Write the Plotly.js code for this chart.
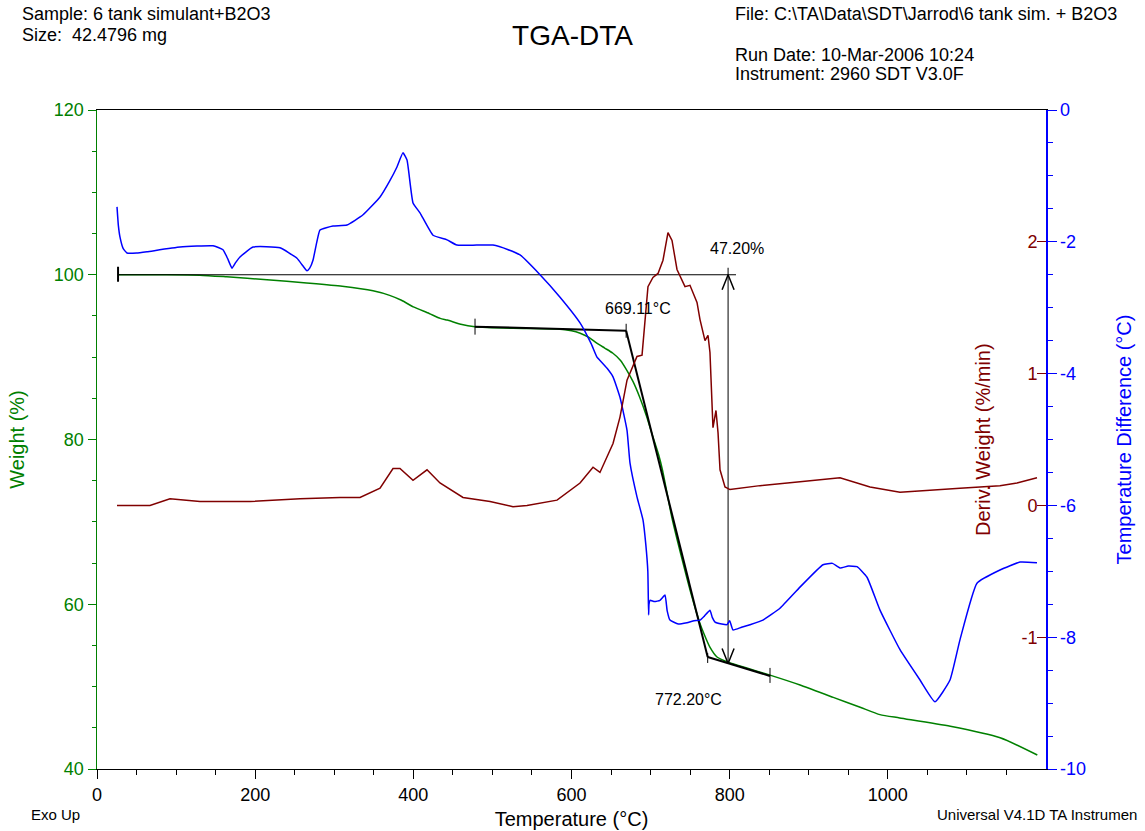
<!DOCTYPE html>
<html><head><meta charset="utf-8">
<script src="https://cdn.plot.ly/plotly-3.0.1.min.js"></script>
<style>html,body{margin:0;padding:0;background:#fff}#chart{width:1145px;height:831px}</style>
</head><body><div id="chart"></div>
<script>
// ---- Weight (%) curve ----
const weightT = [26.6,88,130,164,215,265,310,349,370,385,400,420,434,443,460,478,526,582,600,611,622,632,642,652,662,670,678,686,695,703,710,715,727,740,752,762,768,775,784,800,851,889,931,965,990,1015,1079,1142,1189];
const weightPct = [100,100,99.95,99.75,99.4,99.0,98.6,98.05,97.5,96.9,96.1,95.3,94.7,94.5,94.0,93.7,93.5,93.4,93.2,92.9,92.4,91.7,91.1,90.5,89.6,88.4,87.0,85.2,82.8,80.3,78.2,76.3,70.5,65.4,61.0,57.8,56.3,54.8,53.6,52.9,51.4,50.2,48.7,47.5,46.6,46.2,45.2,43.8,41.7];

// ---- Temperature difference (°C) curve ----
const dtaT = [25.3,27,29.1,33,37.9,50,63.2,105,146.7,159.3,165,170.7,175,180.8,197.3,231.4,252.9,260,265.5,269,273.1,278,282,298.4,316.1,336.4,357.9,370,379.3,386.9,392,399.6,408.4,424.9,442.6,455,480,500.7,520,534.9,560.2,585.5,610.8,625,632.2,636,645,652.5,661.3,670.2,674,682.8,690.4,694,696.5,697.5,698,699.3,705,711.9,718.2,721,724.5,735,746,755,762.5,768,775.1,778,781.5,790,796.6,800,804.2,815,825.7,842.1,863.6,888.9,918,930,939.5,950,961,973.7,990.1,1015.4,1040.7,1059.6,1078.6,1091.2,1112.7,1141.8,1167.1,1188.6];
const dtaDiff = [-1.47,-1.75,-1.93,-2.1,-2.17,-2.17,-2.15,-2.08,-2.06,-2.12,-2.25,-2.40,-2.32,-2.23,-2.08,-2.09,-2.25,-2.36,-2.44,-2.4,-2.28,-2.0,-1.82,-1.76,-1.745,-1.59,-1.32,-1.08,-0.865,-0.65,-0.76,-1.41,-1.56,-1.90,-1.97,-2.05,-2.05,-2.05,-2.12,-2.20,-2.50,-2.84,-3.23,-3.55,-3.75,-3.80,-3.92,-4.05,-4.36,-4.86,-5.36,-5.87,-6.22,-6.6,-7.0,-7.66,-7.5,-7.44,-7.46,-7.44,-7.36,-7.6,-7.74,-7.8,-7.78,-7.75,-7.74,-7.68,-7.59,-7.7,-7.77,-7.8,-7.81,-7.75,-7.89,-7.85,-7.81,-7.74,-7.56,-7.24,-6.90,-6.88,-6.95,-6.92,-6.93,-7.09,-7.59,-8.19,-8.65,-8.98,-8.65,-8.04,-7.18,-6.98,-6.86,-6.87];

// ---- Derivative weight (%/min) curve ----
const derivT = [25.3,67,92.3,130.2,193.5,256.7,307.3,332.6,357.9,374.3,383.1,399.6,417.3,433.7,462.8,497,526,543.7,581.7,610.8,627.2,636,652.5,661.3,670.2,682.8,689.2,693,696.7,703,709.4,715.7,722,727.1,733.4,743.5,749.8,758.7,762.5,768.8,772.6,775.1,777.7,778.9,782.7,785.3,787.8,794.1,800.4,838.4,888.9,939.5,977.5,1015.4,1091.2,1141.8,1163.3,1188.6];
const derivRate = [0.0,0.0,0.05,0.03,0.03,0.05,0.06,0.06,0.13,0.28,0.28,0.19,0.27,0.17,0.06,0.03,-0.01,0.0,0.04,0.17,0.29,0.25,0.47,0.67,0.95,1.13,1.14,1.41,1.66,1.73,1.76,1.86,2.07,2.01,1.79,1.66,1.67,1.54,1.41,1.25,1.29,1.16,0.75,0.59,0.72,0.55,0.27,0.14,0.12,0.15,0.18,0.21,0.14,0.10,0.13,0.15,0.17,0.21];

// ---- Step analysis ----
const baselineT = [26.6, 808];
const baselineW = [100, 100];
const onsetBaseT = [478, 669.11];
const onsetBaseW = [93.7, 93.2];
const steepT = [669.11, 772.2];
const steepW = [93.2, 53.6];
const postT = [772.2, 851];
const postW = [53.6, 51.3];
const stepT = 798;
const stepW = [100, 52.8];
const stepLabel = '47.20%';
const onsetLabel = '669.11°C';
const endLabel = '772.20°C';

// ---- Tick labels ----
const xTicks = [0,200,400,600,800,1000,1200];
const wTicks = [40,60,80,100,120];
const dTickVals = [0,-2,-4,-6,-8,-10];
const dTickText = ['0','-2','-4','-6','-8','-10'];
const rTickVals = [2,1,0,-1];
const rTickText = ['2','1','0','-1'];

const GREEN = '#008000', BLUE = '#0000ff', RED = '#800000';
const FONT = 'Arial, "Liberation Sans", sans-serif';

// pixel helpers for text placement
const L = 97, R = 1046, T = 110, B = 769;
const px = x => (x - L) / (R - L);
const py = y => (B - y) / (B - T);
// pixel -> data helpers for tick/arrow sizes
const dT = p => p * 1200 / (R - L);
const dW = p => p * 80 / (B - T);

const blk = {color:'#000', width:1};
const traces = [
  {x: weightT, y: weightPct, mode:'lines', line:{color:GREEN, width:1.5, shape:'spline', smoothing:0.6}, yaxis:'y'},
  {x: dtaT, y: dtaDiff, mode:'lines', line:{color:BLUE, width:1.5, shape:'spline', smoothing:0.4}, yaxis:'y2'},
  {x: derivT, y: derivRate, mode:'lines', line:{color:RED, width:1.5}, yaxis:'y3'},
  // baseline at 100%
  {x: baselineT, y: baselineW, mode:'lines', line:blk, yaxis:'y'},
  {x: [baselineT[0], baselineT[0]], y: [baselineW[0]-dW(7), baselineW[0]+dW(8)], mode:'lines', line:{color:'#000', width:2}, yaxis:'y'},
  // onset tangents
  {x: onsetBaseT, y: onsetBaseW, mode:'lines', line:{color:'#000', width:2}, yaxis:'y'},
  {x: [onsetBaseT[0], onsetBaseT[0]], y: [onsetBaseW[0]-dW(8), onsetBaseW[0]+dW(8)], mode:'lines', line:blk, yaxis:'y'},
  {x: [onsetBaseT[1], onsetBaseT[1]], y: [onsetBaseW[1]-dW(7), onsetBaseW[1]+dW(7)], mode:'lines', line:blk, yaxis:'y'},
  {x: steepT, y: steepW, mode:'lines', line:{color:'#000', width:2}, yaxis:'y'},
  {x: postT, y: postW, mode:'lines', line:{color:'#000', width:2}, yaxis:'y'},
  {x: [postT[0], postT[0]], y: [postW[0]-dW(6), postW[0]+dW(4)], mode:'lines', line:blk, yaxis:'y'},
  {x: [postT[1], postT[1]], y: [postW[1]-dW(7), postW[1]+dW(8)], mode:'lines', line:blk, yaxis:'y'},
  // step arrow
  {x: [stepT, stepT], y: [stepW[0]+dW(7), stepW[1]], mode:'lines', line:blk, yaxis:'y'},
  {x: [stepT-dT(6), stepT, stepT+dT(6)], y: [stepW[0]-dW(15), stepW[0], stepW[0]-dW(15)], mode:'lines', line:{color:'#000', width:1.5}, yaxis:'y'},
  {x: [stepT-dT(6), stepT, stepT+dT(6)], y: [stepW[1]+dW(15), stepW[1], stepW[1]+dW(15)], mode:'lines', line:{color:'#000', width:1.5}, yaxis:'y'}
];
traces.forEach(t => { t.hoverinfo = 'skip'; t.showlegend = false; });

const ann = (text, x, y, size, xanchor, extra) => Object.assign({
  text, x: px(x), y: py(y), xref:'paper', yref:'paper', showarrow:false,
  xanchor: xanchor || 'center', yanchor:'middle', font:{family:FONT, size, color:'#000'}
}, extra || {});

const layout = {
  width:1145, height:831,
  margin:{l:L, r:1145-R, t:T, b:831-B, pad:0},
  paper_bgcolor:'#fff', plot_bgcolor:'#fff',
  showlegend:false,
  font:{family:FONT, color:'#000'},
  title:{text:'TGA-DTA', font:{family:FONT, size:28, color:'#000'}, xref:'container', yref:'container', x:0.5, y:1-35/831, xanchor:'center', yanchor:'middle'},
  xaxis:{range:[0,1200], tickvals:xTicks, ticktext:xTicks.map(String), ticks:'outside', ticklen:9, tickcolor:'#000',
    minor:{dtick:50, ticks:'outside', ticklen:5, tickcolor:'#000'},
    showline:true, linecolor:'#000', linewidth:1, mirror:true, showgrid:false, zeroline:false,
    tickfont:{size:18, color:'#000'},
    title:{text:'Temperature (°C)', font:{size:20, color:'#000'}, standoff:8}},
  yaxis:{range:[40,120], tickvals:wTicks, ticktext:wTicks.map(String), ticks:'outside', ticklen:8, tickcolor:GREEN,
    minor:{dtick:5, ticks:'outside', ticklen:4, tickcolor:GREEN},
    showline:true, linecolor:GREEN, linewidth:1.5, showgrid:false, zeroline:false,
    tickfont:{size:18, color:GREEN},
    title:{text:'Weight (%)', font:{size:20, color:GREEN}, standoff:24}},
  yaxis2:{range:[-10,0], overlaying:'y', side:'right', anchor:'x', tickvals:dTickVals, ticktext:dTickText,
    ticks:'outside', ticklen:9, tickcolor:BLUE,
    minor:{dtick:0.5, ticks:'outside', ticklen:5, tickcolor:BLUE},
    showline:true, linecolor:BLUE, linewidth:1.5, showgrid:false, zeroline:false,
    tickfont:{size:18, color:BLUE},
    title:{text:'Temperature Difference (°C)', font:{size:20, color:BLUE}, standoff:32}},
  yaxis3:{range:[-2,3], overlaying:'y', side:'right', anchor:'x', tickvals:rTickVals, ticktext:rTickText,
    ticks:'inside', ticklen:9, tickcolor:RED, ticklabelposition:'inside',
    showline:false, showgrid:false, zeroline:false,
    tickfont:{size:18, color:RED}},
  annotations:[
    ann('Sample: 6 tank simulant+B2O3', 20, 14, 18, 'left'),
    ann('Size:\u00a0 42.4796 mg', 20, 35, 18, 'left'),
    ann('File: C:\\TA\\Data\\SDT\\Jarrod\\6 tank sim. + B2O3', 733, 14, 18, 'left'),
    ann('Run Date: 10-Mar-2006 10:24', 733, 55, 18, 'left'),
    ann('Instrument: 2960 SDT V3.0F', 733, 74, 18, 'left'),
    ann('Exo Up', 29, 814, 15, 'left'),
    ann('Universal V4.1D TA Instrumen', 935, 814, 15, 'left'),
    ann(stepLabel, 737, 248, 16),
    ann(onsetLabel, 638, 308, 16),
    ann(endLabel, 688, 699, 16),
    ann('Deriv. Weight (%/min)', 983, 440, 20, 'center', {textangle:-90, font:{family:FONT, size:20, color:RED}})
  ]
};

Plotly.newPlot('chart', traces, layout, {staticPlot:true, displayModeBar:false});
</script></body></html>
